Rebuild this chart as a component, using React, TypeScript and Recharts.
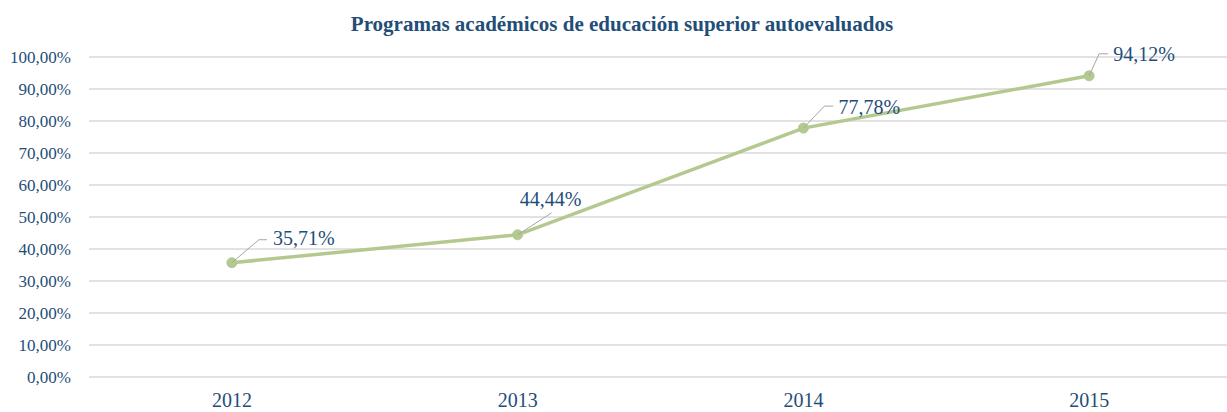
import { CartesianGrid, LabelList, Line, LineChart, XAxis, YAxis } from "recharts";

const years = ["2012", "2013", "2014", "2015"];
const autoevaluados = [0.3571, 0.4444, 0.7778, 0.9412];
const yTicks = [0, 0.1, 0.2, 0.3, 0.4, 0.5, 0.6, 0.7, 0.8, 0.9, 1];

const data = years.map((year, i) => ({ year, value: autoevaluados[i] }));

// leader line elbow / end and text anchor, relative to each point
const labelPos = [
  { ex: 27, ey: -23, hx: 35, tx: 41, ty: -25, anchor: "start" },
  { ex: 34, ey: -22, hx: 34, tx: 33, ty: -36, anchor: "middle" },
  { ex: 21, ey: -22, hx: 30, tx: 35, ty: -21, anchor: "start" },
  { ex: 10, ey: -22, hx: 19, tx: 24, ty: -22, anchor: "start" },
];

const BLUE = "#1f4e79";
const FONT = '"Liberation Serif", "Times New Roman", serif';

const pct = (v: number) => `${(v * 100).toFixed(2).replace(".", ",")}%`;

function PointLabel(props: any) {
  const { x, y, index, value } = props;
  const p = labelPos[index];
  if (!p) return null;
  return (
    <g>
      <polyline
        points={`${x},${y} ${x + p.ex},${y + p.ey} ${x + p.hx},${y + p.ey}`}
        fill="none"
        stroke="#a6a6a6"
        strokeWidth={1}
      />
      <text
        x={x + p.tx}
        y={y + p.ty}
        textAnchor={p.anchor}
        dominantBaseline="central"
        fill={BLUE}
        style={{ fontFamily: FONT, fontSize: 20 }}
      >
        {pct(Number(value))}
      </text>
    </g>
  );
}

export default function App() {
  return (
    <div style={{ position: "absolute", left: 0, top: 0, width: 1227, height: 412, background: "#fff", overflow: "hidden" }}>
      <div
        style={{
          position: "absolute",
          left: 0,
          top: 12,
          width: 1244,
          textAlign: "center",
          fontFamily: FONT,
          fontWeight: "bold",
          fontSize: 21,
          color: BLUE,
        }}
      >
        Programas académicos de educación superior autoevaluados
      </div>
      <LineChart
        width={1227}
        height={412}
        data={data}
        margin={{ top: 57, right: -5, bottom: 0, left: 0 }}
        style={{ fontFamily: FONT }}
      >
        <CartesianGrid horizontal vertical={false} stroke="#d9d9d9" strokeWidth={1.5} />
        <XAxis
          dataKey="year"
          scale="band"
          axisLine={false}
          tickLine={false}
          height={35}
          tickMargin={10}
          tick={{ fill: BLUE, fontSize: 20, fontFamily: FONT }}
        />
        <YAxis
          domain={[0, 1]}
          ticks={yTicks}
          tickFormatter={pct}
          width={89}
          axisLine={false}
          tickLine={false}
          tickMargin={12}
          interval={0}
          tick={{ fill: BLUE, fontSize: 17, fontFamily: FONT }}
        />
        <Line
          dataKey="value"
          stroke="#b4c98f"
          strokeWidth={3.5}
          dot={{ r: 5, fill: "#b4c98f", stroke: "#b4c98f", strokeWidth: 1 }}
          activeDot={false}
          isAnimationActive={false}
        >
          <LabelList dataKey="value" content={<PointLabel />} />
        </Line>
      </LineChart>
    </div>
  );
}
